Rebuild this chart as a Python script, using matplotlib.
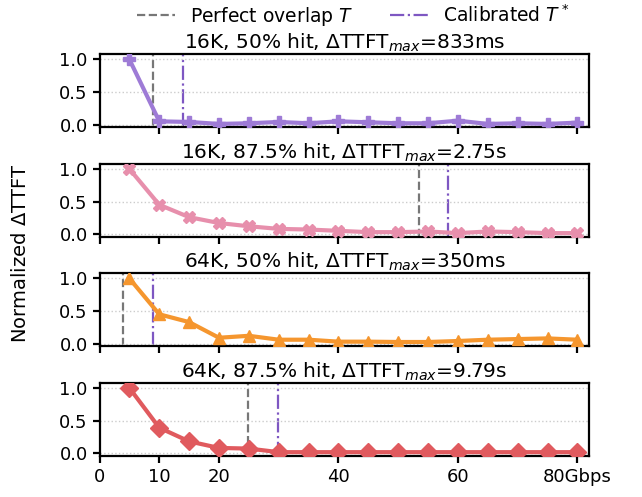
import matplotlib.pyplot as plt

bw = [5, 10, 15, 20, 25, 30, 35, 40, 45, 50, 55, 60, 65, 70, 75, 80]

ttft_16k_50 = [1.0, 0.05, 0.04, 0.01, 0.02, 0.04, 0.02, 0.05, 0.035, 0.02, 0.02, 0.06, 0.01, 0.02, 0.01, 0.03]
ttft_16k_875 = [1.0, 0.45, 0.26, 0.17, 0.12, 0.08, 0.07, 0.05, 0.03, 0.03, 0.04, 0.015, 0.04, 0.03, 0.015, 0.015]
ttft_64k_50 = [1.0, 0.45, 0.33, 0.09, 0.12, 0.06, 0.06, 0.03, 0.03, 0.025, 0.025, 0.04, 0.06, 0.07, 0.08, 0.06]
ttft_64k_875 = [1.0, 0.39, 0.18, 0.08, 0.07, 0.015, 0.015, 0.015, 0.015, 0.015, 0.015, 0.015, 0.015, 0.015, 0.015, 0.015]

titles = ["16K, 50% hit, $\\Delta$TTFT$_{max}$=833ms",
          "16K, 87.5% hit, $\\Delta$TTFT$_{max}$=2.75s",
          "64K, 50% hit, $\\Delta$TTFT$_{max}$=350ms",
          "64K, 87.5% hit, $\\Delta$TTFT$_{max}$=9.79s"]
perfect_T = [9.0, 53.4, 3.85, 24.9]
calib_T = [14.0, 58.3, 8.9, 29.9]

series = [ttft_16k_50, ttft_16k_875, ttft_64k_50, ttft_64k_875]
colors = ["#9e7bd6", "#e78fac", "#f5962e", "#e05a5e"]
markers = ["P", "X", "^", "D"]

plt.rcParams["font.size"] = 13

fig, axes = plt.subplots(4, 1, figsize=(6.42, 4.97), dpi=100, sharex=True)
fig.subplots_adjust(left=0.155, right=0.918, top=0.891, bottom=0.083, hspace=0.5)

for i, ax in enumerate(axes):
    ax.axvline(perfect_T[i], color="#777777", ls="--", lw=1.6, zorder=1)
    ax.axvline(calib_T[i], color="#7e57c2", ls="-.", lw=1.6, zorder=1)
    ax.plot(bw, series[i], color=colors[i], marker=markers[i], lw=3, ms=9, zorder=3)
    ax.set_title(titles[i], fontsize=14.5, pad=3)
    ax.set_ylim(-0.04, 1.08)
    ax.set_yticks([0.0, 0.5, 1.0])
    ax.set_xlim(0, 82)
    ax.yaxis.grid(True, ls=":", color="#cccccc", lw=1)
    for s in ax.spines.values():
        s.set_linewidth(1.6)
    ax.tick_params(width=1.6, length=5, labelsize=13)

axes[-1].set_xticks([0, 10, 20, 40, 60, 80])
axes[-1].set_xticklabels(["0", "10", "20", "40", "60", "80Gbps"])

fig.text(0.032, 0.49, "Normalized $\\Delta$TTFT", rotation=90, va="center", ha="center", fontsize=14)

handles = [plt.Line2D([], [], color="#777777", ls="--", lw=1.6),
           plt.Line2D([], [], color="#7e57c2", ls="-.", lw=1.6)]
fig.legend(handles, ["Perfect overlap $T$", "Calibrated $T^*$"], loc="upper center",
           bbox_to_anchor=(0.55, 1.025), ncol=2, frameon=False, fontsize=13.5, columnspacing=2,
           handlelength=2)

fig.savefig("out.png")
